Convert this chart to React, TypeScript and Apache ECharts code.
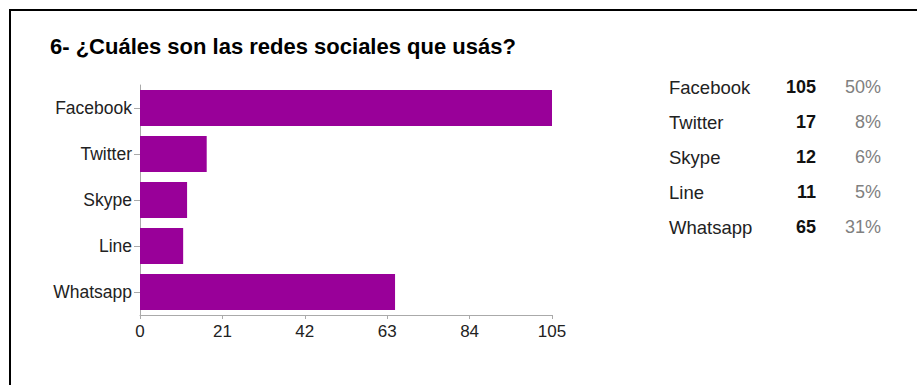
import React, { useEffect, useRef } from "react";
import * as echarts from "echarts";

const categories = ["Facebook", "Twitter", "Skype", "Line", "Whatsapp"];
const values = [105, 17, 12, 11, 65];
const xTicks = { min: 0, max: 105, interval: 21 };
const title = "6- ¿Cuáles son las redes sociales que usás?";

const FONT = "'Liberation Sans', Arial, sans-serif";

export default function App() {
  const ref = useRef<HTMLDivElement>(null);
  useEffect(() => {
    if (!ref.current) return;
    const chart = echarts.init(ref.current, null, { renderer: "svg" });
    const total = values.reduce((a, b) => a + b, 0);
    const legendEls: any[] = [];
    categories.forEach((c, i) => {
      const y = 87 + i * 35;
      legendEls.push({
        type: "text",
        x: 669,
        y,
        style: { text: c, fill: "#222", font: `18.5px ${FONT}`, textAlign: "left", textVerticalAlign: "middle" },
      });
      legendEls.push({
        type: "text",
        x: 816,
        y,
        style: { text: String(values[i]), fill: "#111", font: `bold 18px ${FONT}`, textAlign: "right", textVerticalAlign: "middle" },
      });
      legendEls.push({
        type: "text",
        x: 881,
        y,
        style: {
          text: Math.round((values[i] / total) * 100) + "%",
          fill: "#808080",
          font: `18px ${FONT}`,
          textAlign: "right",
          textVerticalAlign: "middle",
        },
      });
    });
    chart.setOption({
      animation: false,
      backgroundColor: "#fff",
      graphic: [
        {
          type: "rect",
          shape: { x: 10, y: 10, width: 1200, height: 1000 },
          style: { fill: "none", stroke: "#000", lineWidth: 2 },
        },
        {
          type: "text",
          x: 50,
          y: 46,
          style: { text: title, fill: "#000", font: `bold 22px ${FONT}`, textVerticalAlign: "middle" },
        },
        ...legendEls,
      ],
      grid: { left: 140, right: 365, top: 85, bottom: 70, containLabel: false },
      xAxis: {
        type: "value",
        min: xTicks.min,
        max: xTicks.max,
        interval: xTicks.interval,
        splitLine: { show: false },
        axisLine: { show: true, lineStyle: { color: "#aaa", width: 1 } },
        axisTick: { show: true, length: 4, lineStyle: { color: "#aaa" } },
        axisLabel: { color: "#222", fontSize: 17, fontFamily: FONT, margin: 8 },
      },
      yAxis: {
        type: "category",
        data: categories,
        inverse: true,
        axisLine: { show: true, lineStyle: { color: "#aaa", width: 1 } },
        axisTick: { show: true, alignWithLabel: true, length: 6, lineStyle: { color: "#aaa" } },
        axisLabel: { color: "#222", fontSize: 17.5, fontFamily: FONT, margin: 8 },
      },
      series: [
        {
          type: "bar",
          data: values,
          barCategoryGap: "22%",
          itemStyle: { color: "#990099" },
        },
      ],
    });
    return () => chart.dispose();
  }, []);
  return (
    <div
      ref={ref}
      style={{ position: "fixed", left: 0, top: 0, width: 917, height: 385 }}
    />
  );
}
